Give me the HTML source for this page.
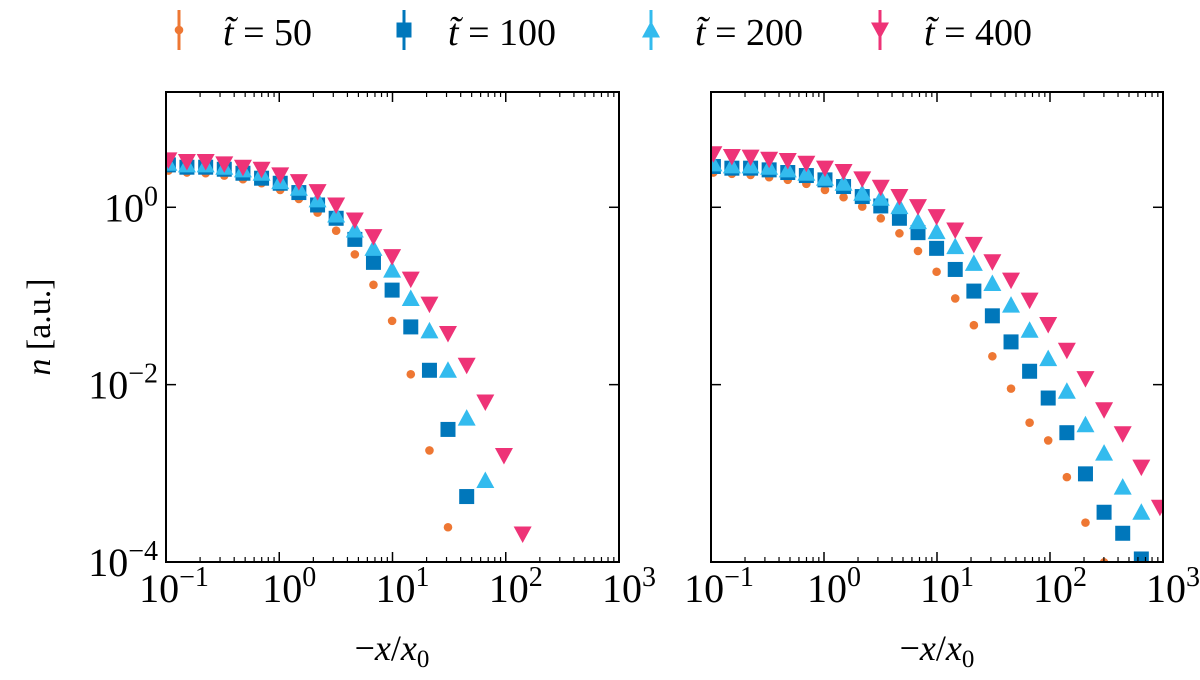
<!DOCTYPE html>
<html><head><meta charset="utf-8"><style>
html,body{margin:0;padding:0;background:#fff;}
svg text{font-family:"Liberation Serif","DejaVu Serif",serif;fill:#000;}
</style></head><body>
<svg id="chart" width="1200" height="675" viewBox="0 0 1200 675" xmlns="http://www.w3.org/2000/svg" font-family="Liberation Serif, DejaVu Serif, serif">
<defs>
<clipPath id="clipL"><rect x="166" y="92" width="453" height="470"/></clipPath>
<clipPath id="clipR"><rect x="711" y="92" width="452" height="470"/></clipPath>
</defs>
<g id="legend"></g>
<g id="panelL"></g>
<g id="panelR"></g>
<text x="50" y="327" font-size="34" text-anchor="middle" transform="rotate(-90 50 327)"><tspan font-style="italic">n</tspan> [a.u.]</text>
<text x="392" y="660" font-size="36" text-anchor="middle">−<tspan font-style="italic">x</tspan>/<tspan font-style="italic">x</tspan><tspan font-size="25" dy="7">0</tspan></text>
<text x="937" y="660" font-size="36" text-anchor="middle">−<tspan font-style="italic">x</tspan>/<tspan font-style="italic">x</tspan><tspan font-size="25" dy="7">0</tspan></text>
</svg>
<script>
const xVals = [0.105,0.153,0.224,0.327,0.478,0.698,1.02,1.49,2.18,3.18,4.65,6.79,9.92,14.5,21.2,30.9,45.2,66.0,96.4,141,206,301,440,643,939];
const seriesLabels = ["50","100","200","400"];
const xTickExps = [-1,0,1,2,3];
const yTickExps = [0,-2,-4];
// log10(n) values
const leftT50  = [0.414,0.392,0.384,0.358,0.316,0.271,0.196,0.094,-0.060,-0.264,-0.531,-0.874,-1.281,-1.883,-2.742,-3.608];
const leftT100 = [0.478,0.452,0.452,0.429,0.384,0.328,0.271,0.166,0.026,-0.124,-0.362,-0.621,-0.934,-1.349,-1.838,-2.505,-3.262];
const leftT200 = [0.497,0.478,0.478,0.452,0.422,0.384,0.290,0.215,0.083,-0.087,-0.256,-0.463,-0.708,-1.028,-1.394,-1.838,-2.377,-3.081];
const leftT400 = [0.535,0.516,0.516,0.490,0.452,0.429,0.365,0.290,0.177,0.026,-0.143,-0.331,-0.557,-0.810,-1.092,-1.424,-1.782,-2.196,-2.799,-3.684];
const rightT50  = [0.392,0.377,0.365,0.339,0.309,0.264,0.196,0.113,0.008,-0.124,-0.294,-0.493,-0.727,-1.028,-1.330,-1.680,-2.045,-2.429,-2.629,-3.043,-3.556,-4.004];
const rightT100 = [0.460,0.441,0.441,0.422,0.392,0.358,0.309,0.234,0.121,0.015,-0.124,-0.286,-0.463,-0.701,-0.945,-1.224,-1.518,-1.849,-2.151,-2.542,-3.006,-3.439,-3.676,-3.966];
const rightT200 = [0.490,0.467,0.467,0.452,0.422,0.384,0.328,0.271,0.158,0.102,0.008,-0.162,-0.275,-0.444,-0.633,-0.859,-1.104,-1.386,-1.706,-2.075,-2.452,-2.772,-3.156,-3.439];
const rightT400 = [0.603,0.573,0.565,0.542,0.527,0.497,0.441,0.403,0.320,0.226,0.121,0.008,-0.105,-0.256,-0.418,-0.614,-0.821,-1.047,-1.322,-1.612,-1.932,-2.283,-2.554,-2.930,-3.382];

const NS="http://www.w3.org/2000/svg";
const colors=["#EE7733","#0077BB","#33BBEE","#EE3377"];
const kinds=["circle","square","up","down"];
function mk(tag,attrs,parent){const e=document.createElementNS(NS,tag);for(const k in attrs)e.setAttribute(k,attrs[k]);parent.appendChild(e);return e;}
function marker(kind,cx,cy,color,parent){
  let e;
  if(kind==="circle") e=mk("circle",{cx:cx,cy:cy,r:4.3,fill:color},parent);
  else if(kind==="square") e=mk("rect",{x:cx-7.5,y:cy-7.5,width:15,height:15,fill:color},parent);
  else if(kind==="up") e=mk("polygon",{points:`${cx-9},${cy+7.5} ${cx+9},${cy+7.5} ${cx},${cy-9}`,fill:color},parent);
  else e=mk("polygon",{points:`${cx-9},${cy-7.5} ${cx+9},${cy-7.5} ${cx},${cy+9}`,fill:color},parent);
  return e;
}
function panel(g,x0,x1,y0,y1,clip,series,showY,side){
  const sx=v=>x0+(Math.log10(v)+1)/4*(x1-x0);
  const yTop=1.3, yBot=-4;
  const sy=lv=>y0+(yTop-lv)/(yTop-yBot)*(y1-y0);
  const mg=mk("g",{"clip-path":`url(#${clip})`},g);
  series.forEach((s,si)=>{
    const sg=mk("g",{},mg);
    
    
    s.forEach((lv,i)=>{
      const m=marker(kinds[si],sx(xVals[i]),sy(lv),colors[si],sg);
      
      
    });
  });
  const fr=mk("rect",{x:x0,y:y0,width:x1-x0,height:y1-y0,fill:"none",stroke:"#000","stroke-width":2},g);
  
  
  xTickExps.forEach((ex,k)=>{
    const px=sx(Math.pow(10,ex));
    mk("line",{x1:px,x2:px,y1:y1,y2:y1-10,stroke:"#000","stroke-width":1.5},g);
    mk("line",{x1:px,x2:px,y1:y0,y2:y0+10,stroke:"#000","stroke-width":1.5},g);
    if(k<xTickExps.length-1){for(let m=2;m<10;m++){const mx=sx(m*Math.pow(10,ex));
      mk("line",{x1:mx,x2:mx,y1:y1,y2:y1-5,stroke:"#000","stroke-width":1.2},g);
      mk("line",{x1:mx,x2:mx,y1:y0,y2:y0+5,stroke:"#000","stroke-width":1.2},g);}}
    const t=mk("text",{x:px+(ex<0?8:10),y:y1+40,"font-size":40,"text-anchor":"middle"},g);
    
    
    t.innerHTML=`10<tspan font-size="28" dy="-16">${ex<0?"−"+(-ex):ex}</tspan>`;
  });
  yTickExps.forEach(ex=>{
    const py=sy(ex);
    mk("line",{x1:x0,x2:x0+10,y1:py,y2:py,stroke:"#000","stroke-width":1.5},g);
    mk("line",{x1:x1,x2:x1-10,y1:py,y2:py,stroke:"#000","stroke-width":1.5},g);
    if(showY){
      const t=mk("text",{x:x0-8,y:py+14,"font-size":40,"text-anchor":"end"},g);
      
      
      t.innerHTML=`10<tspan font-size="28" dy="-16">${ex<0?"−"+(-ex):ex}</tspan>`;
    }
  });
}
panel(document.getElementById("panelL"),166,619,92,562,"clipL",[leftT50,leftT100,leftT200,leftT400],true,"left");
panel(document.getElementById("panelR"),711,1163,92,562,"clipR",[rightT50,rightT100,rightT200,rightT400],false,"right");
const lg=document.getElementById("legend");
const legX=[179,404,651,880];
seriesLabels.forEach((lab,i)=>{
  const eg=mk("g",{},lg);
  
  
  mk("line",{x1:legX[i],x2:legX[i],y1:10,y2:50,stroke:colors[i],"stroke-width":3},eg);
  marker(kinds[i],legX[i],30,colors[i],eg);
  const t=mk("text",{x:legX[i]+44,y:45,"font-size":38},eg);
  t.innerHTML=`<tspan font-style="italic">t̃</tspan> = ${lab}`;
});
</script>
</body></html>
